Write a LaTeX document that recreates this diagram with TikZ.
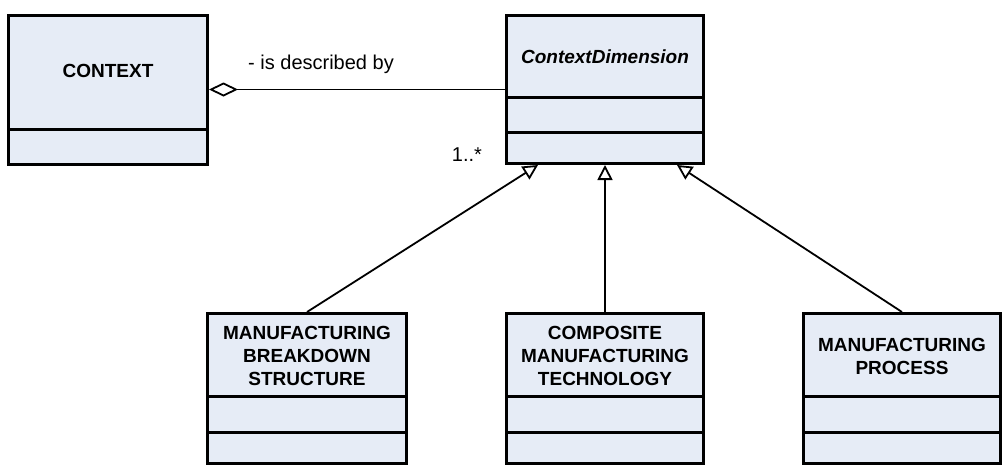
\documentclass[tikz,border=0pt]{standalone}
\usepackage{fontspec}
\setmainfont{Liberation Sans}
\usetikzlibrary{arrows.meta,calc}
\definecolor{boxfill}{RGB}{230,236,246}
\tikzset{
  classbox/.style={draw=black, line width=3pt, fill=boxfill, inner sep=0pt, minimum width=199pt, minimum height=149pt},
  divider/.style={draw=black, line width=3pt},
  title/.style={align=center, inner sep=0pt, font=\fontsize{19pt}{23pt}\selectfont\bfseries},
  lbl/.style={inner sep=0pt, font=\fontsize{20pt}{24pt}\selectfont},
  conn/.style={draw=black, line width=1.8pt},
  gen/.style={conn, -{Triangle[open, length=15pt, width=15pt, fill=white]}},
  agg/.style={conn, {Diamond[open, length=29pt, width=14pt, fill=white]}-}
}
\begin{document}
\begin{tikzpicture}[x=1pt, y=-1pt]
\useasboundingbox (0,0) rectangle (1005,466);
% class boxes
\node[classbox] (ctx) at (108,89.5) {};
\node[classbox, minimum width=197pt, minimum height=148pt] (cd) at (605,89.5) {};
\node[classbox, minimum height=150pt] (mbs) at (307,388.5) {};
\node[classbox, minimum width=197pt, minimum height=150pt] (cmt) at (605,388.5) {};
\node[classbox, minimum width=197pt, minimum height=150pt] (mp) at (902,388.5) {};
% dividers
\draw[divider] (ctx.west |- 0,129) -- (ctx.east |- 0,129);
\draw[divider] (cd.west |- 0,97) -- (cd.east |- 0,97);
\draw[divider] (cd.west |- 0,132) -- (cd.east |- 0,132);
\foreach \b in {mbs,cmt,mp}{
  \draw[divider] (\b.west |- 0,396) -- (\b.east |- 0,396);
  \draw[divider] (\b.west |- 0,432) -- (\b.east |- 0,432);
}
% titles
\node[title] (ctxT) at (108,71) {CONTEXT};
\node[title, font=\fontsize{19pt}{23pt}\selectfont\bfseries\itshape] (cdT) at (605,57) {ContextDimension};
\node[title] (mbsT) at (307,356) {MANUFACTURING\\BREAKDOWN\\STRUCTURE};
\node[title] (cmtT) at (605,356) {COMPOSITE\\MANUFACTURING\\TECHNOLOGY};
\node[title] (mpT) at (902,356) {MANUFACTURING\\PROCESS};
% connectors
\draw[agg] (ctx.east) -- (cd.west);
\node[lbl] (descr) at (321,64) {- is described by};
\node[lbl] (mult) at (467,155) {1..*};
\draw[gen] (mbs.north) -- ($(cd.south)+(-67,0)$);
\draw[gen] (cmt.north) -- (cd.south);
\draw[gen] (mp.north) -- ($(cd.south)+(72,0)$);
\end{tikzpicture}
\end{document}
